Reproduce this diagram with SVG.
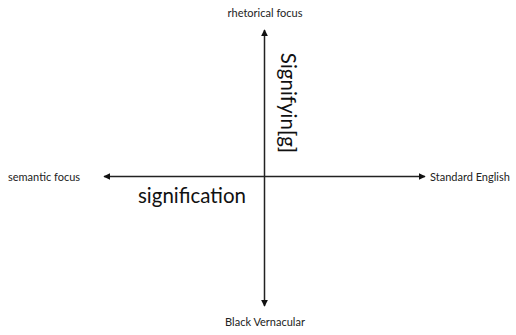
<svg xmlns="http://www.w3.org/2000/svg" width="516" height="335" viewBox="0 0 516 335">
<style>
.lbl{font-family:"Lato","Open Sans",sans-serif;font-size:11px;fill:#222}
.big{font-family:"Lato","Open Sans",sans-serif;font-size:20.5px;fill:#111}
.ax{stroke:#222;stroke-width:1.5;fill:none}
</style>
<defs>
<marker id="ah" viewBox="0 0 10 10" refX="9" refY="5" markerWidth="7" markerHeight="7" markerUnits="userSpaceOnUse" orient="auto-start-reverse">
<path d="M0,0 L10,5 L0,10 z" fill="#111"/>
</marker>
</defs>
<rect width="516" height="335" fill="#fff"/>
<g id="connectors">
<line class="ax" x1="264.5" y1="30" x2="264.5" y2="306" marker-start="url(#ah)" marker-end="url(#ah)"/>
<line class="ax" x1="104" y1="176.5" x2="425" y2="176.5" marker-start="url(#ah)" marker-end="url(#ah)"/>
</g>
<g id="rhetorical"><text class="lbl" x="265" y="17" text-anchor="middle">rhetorical focus</text></g>
<g id="black"><text class="lbl" x="265" y="326" text-anchor="middle">Black Vernacular</text></g>
<g id="semantic"><text class="lbl" x="8" y="180.5">semantic focus</text></g>
<g id="standard"><text class="lbl" x="430" y="180.5">Standard English</text></g>
<g id="signification"><text class="big" x="192" y="203" text-anchor="middle">signification</text></g>
<g id="signifyin"><text class="big" transform="translate(281,103) rotate(90)" text-anchor="middle" font-size="21px">Signifyin[g]</text></g>
</svg>
